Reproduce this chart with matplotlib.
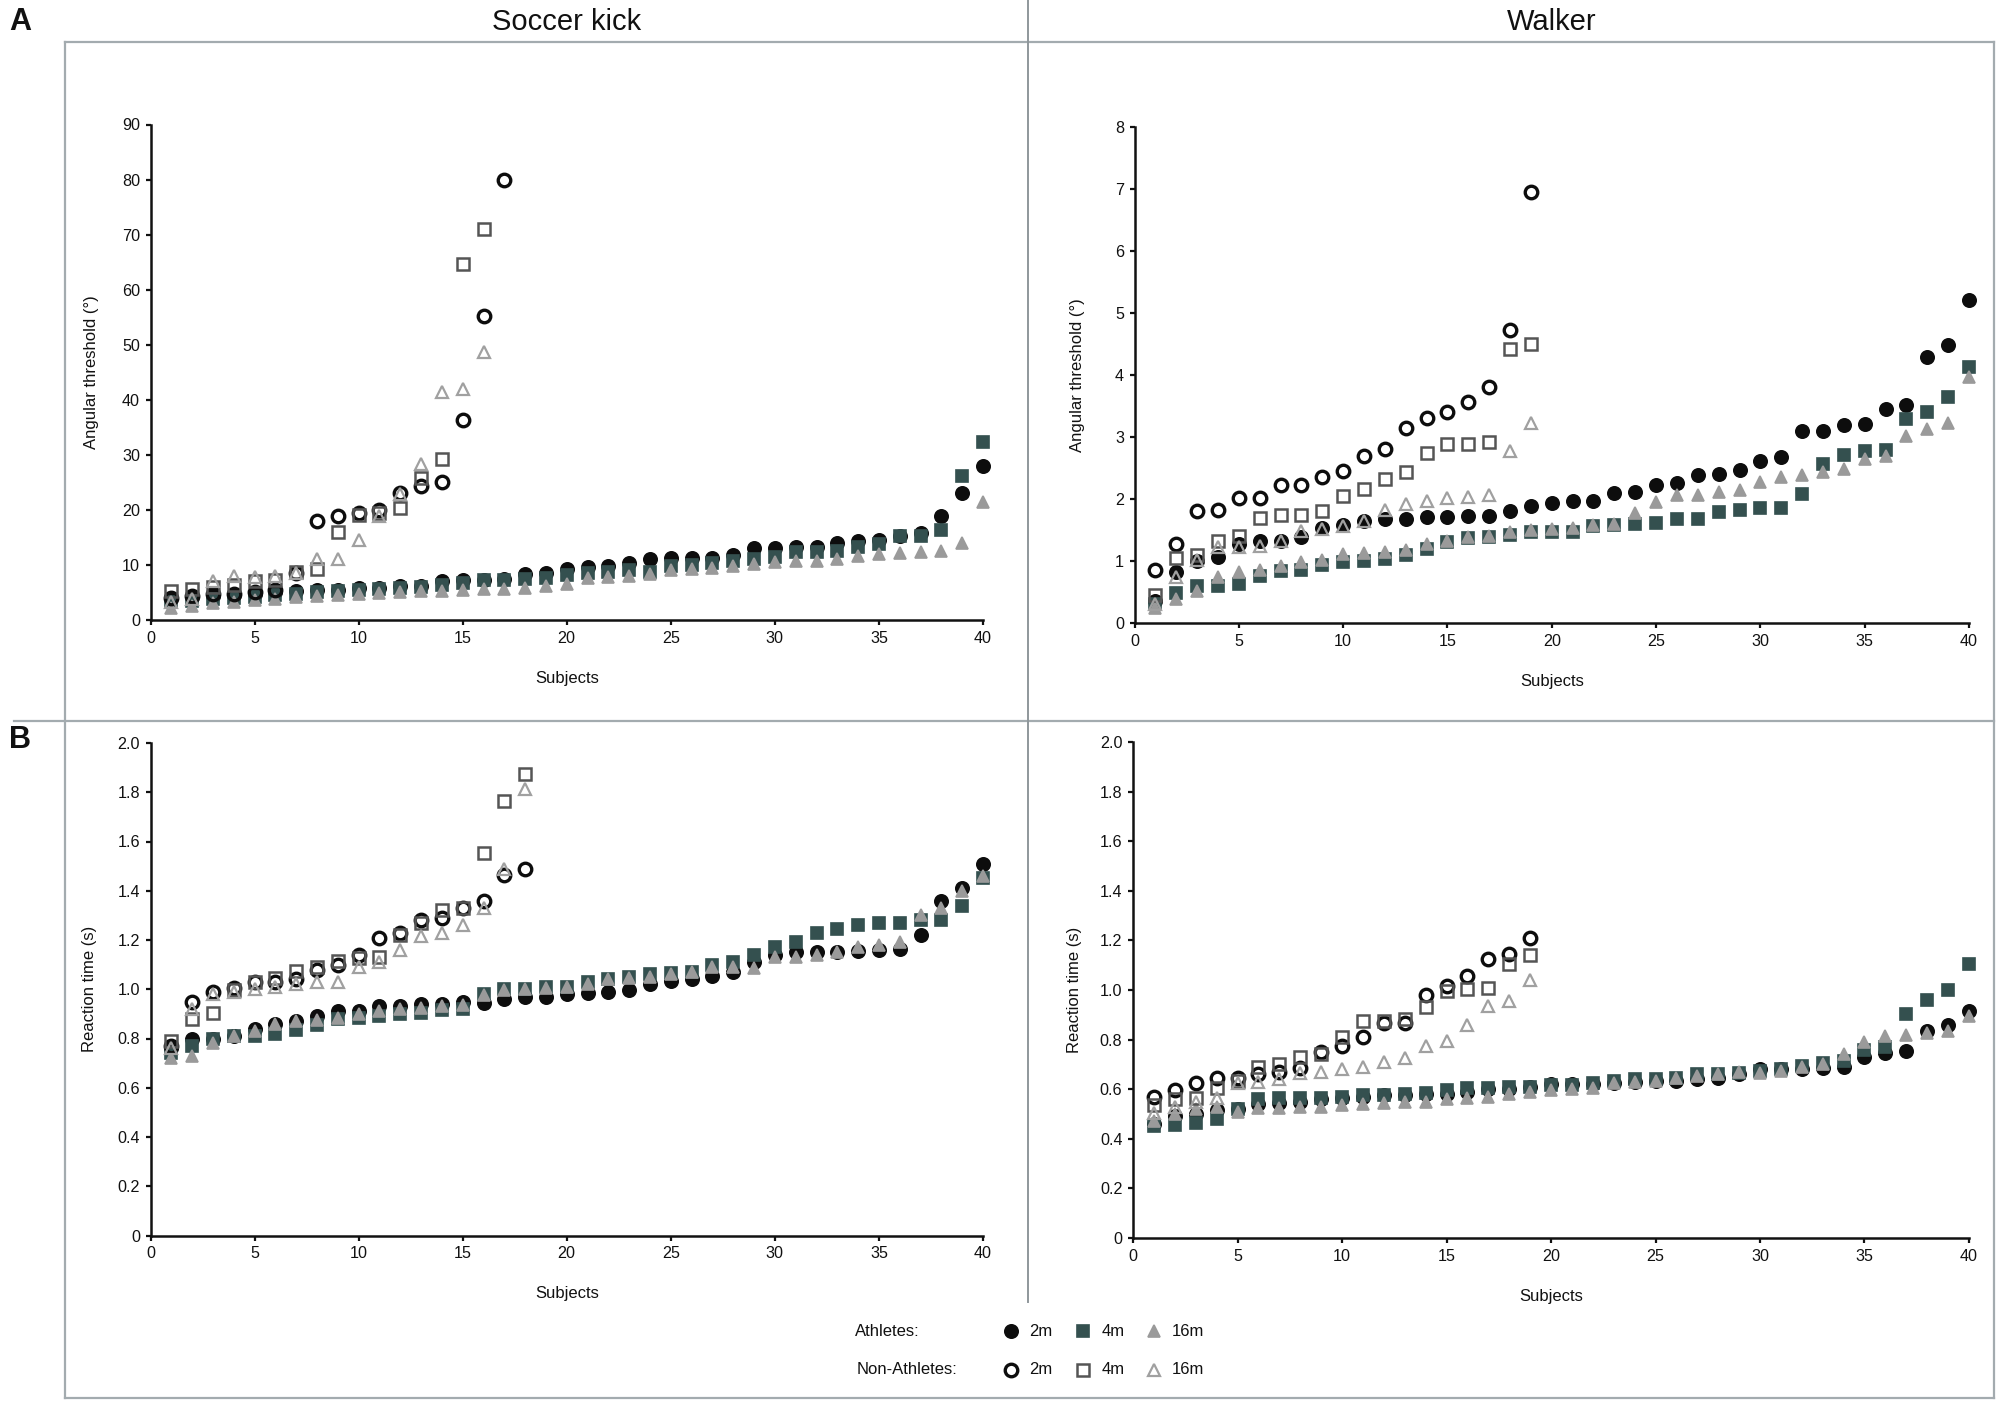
import matplotlib
matplotlib.use("Agg")
import matplotlib.pyplot as plt
from matplotlib.lines import Line2D
import numpy as np

plt.rcParams['font.family'] = ['Liberation Sans', 'DejaVu Sans']

# ---------------- DATA ----------------
# A: Angular threshold, Soccer kick
sk_ath_2m = [4.0, 4.2, 4.4, 4.5, 4.8, 5.0, 5.2, 5.5, 5.5, 5.8, 5.9, 6.2, 6.2, 7.0, 7.3, 7.3, 7.5, 8.3, 8.6, 9.2,
             9.6, 9.8, 10.3, 11.1, 11.2, 11.3, 11.3, 11.8, 13.0, 13.0, 13.2, 13.2, 13.9, 14.3, 14.5, 15.2, 15.8, 18.8, 23.0, 28.0]
sk_ath_4m = [3.2, 3.5, 3.8, 4.0, 4.2, 4.5, 4.8, 5.0, 5.3, 5.5, 5.6, 5.8, 6.0, 6.3, 6.7, 7.2, 7.3, 7.5, 7.7, 8.2,
             8.5, 8.8, 9.0, 8.8, 9.8, 10.0, 10.3, 10.8, 11.0, 11.5, 12.3, 12.3, 12.5, 13.2, 13.8, 15.2, 15.3, 16.4, 26.2, 32.4]
sk_ath_16m = [2.2, 2.6, 3.0, 3.3, 3.6, 3.9, 4.2, 4.4, 4.6, 4.8, 4.9, 5.0, 5.2, 5.3, 5.5, 5.6, 5.7, 5.9, 6.1, 6.6,
              7.7, 7.9, 8.0, 8.3, 9.0, 9.3, 9.5, 9.8, 10.1, 10.6, 10.7, 10.8, 11.0, 11.6, 11.9, 12.2, 12.3, 12.6, 13.9, 21.4]
sk_non_2m = [4.0, 4.3, 4.7, 4.7, 5.0, 5.5, 8.5, 17.9, 18.8, 19.4, 19.9, 23.0, 24.3, 25.0, 36.3, 55.3, 80.0]
sk_non_4m = [5.2, 5.6, 6.0, 6.3, 7.0, 7.2, 8.8, 9.3, 16.0, 19.0, 19.5, 20.3, 25.8, 29.2, 64.7, 71.0]
sk_non_16m = [3.3, 3.8, 7.0, 8.0, 7.8, 8.0, 8.5, 11.0, 11.0, 14.5, 18.8, 22.8, 28.3, 41.5, 42.0, 48.7]

# A: Angular threshold, Walker
wk_ath_2m = [0.35, 0.83, 1.00, 1.07, 1.28, 1.32, 1.33, 1.38, 1.53, 1.58, 1.65, 1.68, 1.68, 1.71, 1.71, 1.73, 1.73, 1.80, 1.88, 1.93,
             1.96, 1.96, 2.10, 2.12, 2.22, 2.26, 2.38, 2.40, 2.47, 2.62, 2.68, 3.09, 3.10, 3.19, 3.21, 3.45, 3.52, 4.29, 4.49, 5.21]
wk_ath_4m = [0.30, 0.48, 0.60, 0.60, 0.63, 0.76, 0.84, 0.85, 0.93, 0.98, 1.00, 1.03, 1.10, 1.20, 1.31, 1.37, 1.38, 1.42, 1.46, 1.46,
             1.47, 1.56, 1.58, 1.59, 1.61, 1.68, 1.68, 1.79, 1.83, 1.86, 1.86, 2.08, 2.56, 2.71, 2.78, 2.79, 3.29, 3.41, 3.64, 4.13]
wk_ath_16m = [0.25, 0.38, 0.52, 0.75, 0.82, 0.85, 0.92, 0.98, 1.02, 1.12, 1.13, 1.15, 1.18, 1.28, 1.32, 1.38, 1.40, 1.47, 1.50, 1.52,
              1.53, 1.58, 1.60, 1.77, 1.95, 2.06, 2.07, 2.12, 2.15, 2.28, 2.35, 2.39, 2.44, 2.48, 2.65, 2.70, 3.01, 3.13, 3.22, 3.97]
wk_non_2m = [0.86, 1.27, 1.80, 1.83, 2.01, 2.01, 2.23, 2.23, 2.36, 2.45, 2.69, 2.81, 3.15, 3.30, 3.41, 3.57, 3.80, 4.72, 6.95]
wk_non_4m = [0.45, 1.05, 1.10, 1.33, 1.40, 1.70, 1.75, 1.75, 1.80, 2.05, 2.16, 2.32, 2.44, 2.75, 2.88, 2.88, 2.92, 4.42, 4.50]
wk_non_16m = [0.30, 0.75, 1.02, 1.22, 1.22, 1.25, 1.33, 1.48, 1.52, 1.57, 1.65, 1.82, 1.92, 1.96, 2.02, 2.04, 2.07, 2.77, 3.22]

# B: Reaction time, Soccer kick
skr_ath_2m = [0.76, 0.80, 0.80, 0.81, 0.84, 0.86, 0.87, 0.89, 0.91, 0.91, 0.93, 0.93, 0.94, 0.94, 0.95, 0.945, 0.96, 0.97, 0.97, 0.98,
              0.985, 0.99, 0.995, 1.02, 1.035, 1.04, 1.055, 1.07, 1.11, 1.14, 1.15, 1.15, 1.15, 1.155, 1.16, 1.165, 1.22, 1.36, 1.41, 1.51]
skr_ath_4m = [0.74, 0.77, 0.80, 0.81, 0.81, 0.82, 0.835, 0.855, 0.88, 0.885, 0.89, 0.90, 0.905, 0.915, 0.92, 0.98, 1.00, 1.00, 1.01, 1.01,
              1.03, 1.04, 1.05, 1.06, 1.065, 1.07, 1.10, 1.11, 1.14, 1.17, 1.19, 1.23, 1.245, 1.26, 1.27, 1.27, 1.28, 1.28, 1.34, 1.45]
skr_ath_16m = [0.72, 0.73, 0.78, 0.81, 0.83, 0.86, 0.87, 0.875, 0.885, 0.90, 0.91, 0.92, 0.925, 0.93, 0.935, 0.975, 0.995, 1.00, 1.005, 1.01,
               1.02, 1.04, 1.045, 1.05, 1.06, 1.07, 1.09, 1.09, 1.085, 1.13, 1.13, 1.14, 1.15, 1.17, 1.18, 1.19, 1.30, 1.33, 1.40, 1.46]
skr_non_2m = [0.77, 0.95, 0.99, 1.005, 1.03, 1.03, 1.04, 1.08, 1.10, 1.14, 1.21, 1.23, 1.28, 1.29, 1.33, 1.36, 1.465, 1.49]
skr_non_4m = [0.79, 0.88, 0.905, 0.995, 1.03, 1.045, 1.075, 1.09, 1.115, 1.125, 1.13, 1.22, 1.27, 1.32, 1.33, 1.555, 1.765, 1.875]
skr_non_16m = [0.76, 0.92, 0.98, 0.99, 1.00, 1.01, 1.02, 1.03, 1.03, 1.09, 1.11, 1.16, 1.215, 1.23, 1.26, 1.33, 1.49, 1.815]

# B: Reaction time, Walker
wkr_ath_2m = [0.46, 0.49, 0.50, 0.515, 0.52, 0.54, 0.545, 0.55, 0.56, 0.565, 0.57, 0.575, 0.575, 0.58, 0.58, 0.59, 0.60, 0.60, 0.61, 0.62,
              0.62, 0.62, 0.625, 0.63, 0.635, 0.635, 0.64, 0.645, 0.66, 0.68, 0.68, 0.68, 0.685, 0.69, 0.73, 0.745, 0.755, 0.835, 0.86, 0.915]
wkr_ath_4m = [0.45, 0.455, 0.465, 0.48, 0.52, 0.56, 0.565, 0.565, 0.565, 0.57, 0.575, 0.575, 0.58, 0.585, 0.595, 0.605, 0.605, 0.61, 0.61, 0.615,
              0.615, 0.625, 0.635, 0.64, 0.64, 0.645, 0.66, 0.66, 0.665, 0.675, 0.68, 0.695, 0.705, 0.715, 0.76, 0.77, 0.905, 0.96, 1.00, 1.105]
wkr_ath_16m = [0.47, 0.50, 0.52, 0.53, 0.51, 0.525, 0.525, 0.53, 0.53, 0.535, 0.54, 0.545, 0.55, 0.55, 0.56, 0.565, 0.57, 0.58, 0.59, 0.595,
               0.60, 0.605, 0.625, 0.63, 0.635, 0.645, 0.655, 0.66, 0.67, 0.665, 0.675, 0.69, 0.70, 0.74, 0.79, 0.815, 0.82, 0.825, 0.835, 0.895]
wkr_non_2m = [0.57, 0.595, 0.625, 0.645, 0.645, 0.66, 0.67, 0.685, 0.75, 0.775, 0.81, 0.865, 0.865, 0.98, 1.015, 1.055, 1.125, 1.145, 1.21]
wkr_non_4m = [0.535, 0.56, 0.565, 0.605, 0.635, 0.69, 0.70, 0.73, 0.74, 0.81, 0.875, 0.875, 0.885, 0.93, 0.995, 1.005, 1.01, 1.105, 1.14]
wkr_non_16m = [0.505, 0.53, 0.55, 0.565, 0.625, 0.63, 0.64, 0.665, 0.67, 0.68, 0.69, 0.71, 0.725, 0.775, 0.795, 0.86, 0.935, 0.955, 1.04]

titles = ["Soccer kick", "Walker"]
ylabel_A = "Angular threshold (°)"
ylabel_B = "Reaction time (s)"
xlabel = "Subjects"
x_ticks = [0, 5, 10, 15, 20, 25, 30, 35, 40]
yticks_sk_A = [0, 10, 20, 30, 40, 50, 60, 70, 80, 90]
yticks_wk_A = [0, 1, 2, 3, 4, 5, 6, 7, 8]
yticks_B = [0, 0.2, 0.4, 0.6, 0.8, 1.0, 1.2, 1.4, 1.6, 1.8, 2.0]
yticklabels_B = ["0", "0.2", "0.4", "0.6", "0.8", "1.0", "1.2", "1.4", "1.6", "1.8", "2.0"]
dist_labels = ["2m", "4m", "16m"]
group_labels = ["Athletes:", "Non-Athletes:"]

# ---------------- STYLE ----------------
C_BLACK = "#0d0d0d"
C_TEAL = "#34504f"
C_GRAY = "#9a9a9a"
styles_ath = [dict(marker='o', ms=4.8, mfc=C_BLACK, mec=C_BLACK, mew=0.6),
              dict(marker='s', ms=4.4, mfc=C_TEAL, mec=C_TEAL, mew=0.6),
              dict(marker='^', ms=4.6, mfc=C_GRAY, mec=C_GRAY, mew=0.6)]
styles_non = [dict(marker='o', ms=4.5, mfc='none', mec=C_BLACK, mew=1.2),
              dict(marker='s', ms=4.3, mfc='none', mec="#555555", mew=0.9),
              dict(marker='^', ms=4.5, mfc='none', mec="#a0a0a0", mew=0.8)]

W, H = 2000, 1404
fig = plt.figure(figsize=(10, 7.02), dpi=200)
fig.patch.set_facecolor('white')
TXT = '#111111'


def axes_from_px(x0, x1, ytop, ybot):
    return fig.add_axes([x0 / W, 1 - ybot / H, (x1 - x0) / W, (ybot - ytop) / H])


def style_axes(ax, ymax, yticks, yticklabels, ylabel, ylab_x):
    ax.set_xlim(0, 40)
    ax.set_ylim(0, ymax)
    ax.set_xticks(x_ticks)
    ax.set_yticks(yticks)
    if yticklabels is not None:
        ax.set_yticklabels(yticklabels)
    for s in ['top', 'right']:
        ax.spines[s].set_visible(False)
    for s in ['left', 'bottom']:
        ax.spines[s].set_color('#111111')
        ax.spines[s].set_linewidth(0.9)
    ax.tick_params(direction='out', length=1.8, width=0.8, labelsize=5.8, pad=2.0, colors=TXT)
    ax.set_ylabel(ylabel, fontsize=6, color=TXT)
    ax.set_xlabel(xlabel, fontsize=6, color=TXT)
    ax.yaxis.set_label_coords(ylab_x, 0.5)
    ax.xaxis.set_label_coords(0.5, -0.103)
    for sp in ax.spines.values():
        sp.set_zorder(0.5)


def draw(ax, ath, non):
    for vals, st in zip(ath, styles_ath):
        xs = np.arange(1, len(vals) + 1)
        ax.plot(xs, vals, linestyle='none', clip_on=False, **st)
    for vals, st in zip(non, styles_non):
        xs = np.arange(1, len(vals) + 1)
        ax.plot(xs, vals, linestyle='none', clip_on=False, **st)


ax1 = axes_from_px(150.5, 983, 124.5, 620)
draw(ax1, [sk_ath_2m, sk_ath_4m, sk_ath_16m], [sk_non_2m, sk_non_4m, sk_non_16m])
style_axes(ax1, 90, yticks_sk_A, None, ylabel_A, -0.062)

ax2 = axes_from_px(1134.5, 1969, 127, 623)
draw(ax2, [wk_ath_2m, wk_ath_4m, wk_ath_16m], [wk_non_2m, wk_non_4m, wk_non_16m])
style_axes(ax2, 8, yticks_wk_A, None, ylabel_A, -0.059)

ax3 = axes_from_px(150.5, 983, 743, 1235.5)
draw(ax3, [skr_ath_2m, skr_ath_4m, skr_ath_16m], [skr_non_2m, skr_non_4m, skr_non_16m])
style_axes(ax3, 2.0, yticks_B, yticklabels_B, ylabel_B, -0.064)

ax4 = axes_from_px(1133, 1969, 742, 1238)
draw(ax4, [wkr_ath_2m, wkr_ath_4m, wkr_ath_16m], [wkr_non_2m, wkr_non_4m, wkr_non_16m])
style_axes(ax4, 2.0, yticks_B, yticklabels_B, ylabel_B, -0.061)

# Titles and panel letters
fig.text(567 / W, 1 - 22 / H, titles[0], ha='center', va='center', fontsize=10.5, color=TXT)
fig.text(1552 / W, 1 - 22 / H, titles[1], ha='center', va='center', fontsize=10.5, color=TXT)
fig.text(20 / W, 1 - 22 / H, "A", ha='center', va='center', fontsize=11, fontweight='bold', color=TXT)
fig.text(20 / W, 1 - 740 / H, "B", ha='center', va='center', fontsize=11, fontweight='bold', color=TXT)

# Frame lines
LC = "#a3abaf"
def fline(xs, ys, lw=0.8, color=LC):
    fig.add_artist(Line2D([x / W for x in xs], [1 - y / H for y in ys], color=color, lw=lw,
                          transform=fig.transFigure))

fline([65, 1994], [42, 42])
fline([65, 65], [42, 1398])
fline([65, 1994], [1398, 1398])
fline([1994, 1994], [42, 1398])
fline([14, 1994], [721, 721])
fline([1028, 1028], [0, 1302], lw=0.7, color="#8f979b")

# Legend
leg_rows_y = [1331, 1370]
fig.text(855 / W, 1 - leg_rows_y[0] / H, group_labels[0], ha='left', va='center', fontsize=6, color=TXT)
fig.text(857 / W, 1 - leg_rows_y[1] / H, group_labels[1], ha='left', va='center', fontsize=6, color=TXT)
mark_x = [1011, 1083, 1154]
text_x = [1029, 1102, 1172]
for row, sts in enumerate([styles_ath, styles_non]):
    y = 1 - leg_rows_y[row] / H
    for i, st in enumerate(sts):
        fig.add_artist(Line2D([mark_x[i] / W], [y], linestyle='none', transform=fig.transFigure, **st))
        fig.text(text_x[i] / W, y, dist_labels[i], ha='left', va='center', fontsize=6, color=TXT)

fig.savefig("out.png", dpi=200, facecolor='white')
